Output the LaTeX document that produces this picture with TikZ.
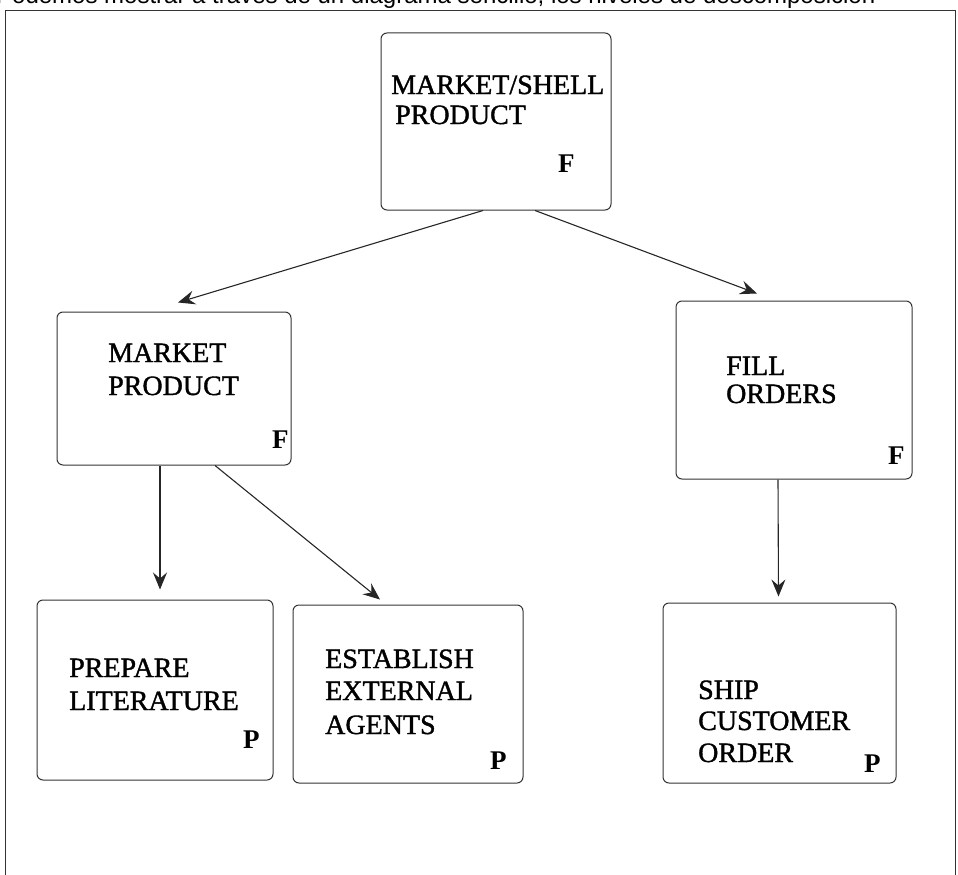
\documentclass[tikz,border=0pt]{standalone}
\usepackage{fontspec}
\setmainfont{Liberation Serif}
\newfontfamily\scanfont[FakeBold=1.3]{Liberation Serif}
\newfontfamily\topsans{Liberation Sans}
\usetikzlibrary{arrows.meta}
\begin{document}
\begin{tikzpicture}[x=1pt,y=-1pt,
  boxnode/.style={draw=black!80, line width=1pt, rounded corners=6pt, inner sep=0pt},
  lbl/.style={anchor=base west, inner sep=0pt, font=\scanfont\fontsize{28}{30}\selectfont},
  tag/.style={anchor=base west, inner sep=0pt, font=\bfseries\fontsize{27}{30}\selectfont},
  conn/.style={draw=black!85, line width=1.1pt, -{Stealth[length=17pt,width=14pt,inset=6pt]}}]
\useasboundingbox (0,0) rectangle (958,875);
% clipped heading line at the very top
\node[anchor=base west, inner sep=0pt, font=\topsans\fontsize{24}{26}\selectfont] (head) at (-4,4)
  {Podemos mostrar a través de un diagrama sencillo, los niveles de descomposición};
% outer frame
\draw[black!80, line width=1pt] (5,890) -- (5,11) -- (955,11) -- (955,890);

% boxes
\node[boxnode, minimum width=230pt, minimum height=177pt] (top) at (496,121.5) {};
\node[boxnode, minimum width=234pt, minimum height=153pt] (mp) at (174,388.5) {};
\node[boxnode, minimum width=236pt, minimum height=178pt] (fo) at (794,390) {};
\node[boxnode, minimum width=236pt, minimum height=180pt] (pl) at (155,690) {};
\node[boxnode, minimum width=230pt, minimum height=178pt] (ea) at (408,694) {};
\node[boxnode, minimum width=233pt, minimum height=180pt] (sc) at (779.5,693) {};

% texts
\node[lbl] (t1a) at (391,94) {MARKET/SHELL};
\node[lbl] (t1b) at (395,124) {PRODUCT};
\node[tag] (t1c) at (558,172) {F};

\node[lbl] (t2a) at (108,362) {MARKET};
\node[lbl] (t2b) at (108,395) {PRODUCT};
\node[tag] (t2c) at (272,448) {F};

\node[lbl] (t3a) at (726,375) {FILL};
\node[lbl] (t3b) at (726,403) {ORDERS};
\node[tag] (t3c) at (888,464) {F};

\node[lbl] (t4a) at (69,677) {PREPARE};
\node[lbl] (t4b) at (69,710) {LITERATURE};
\node[tag] (t4c) at (243,748) {P};

\node[lbl] (t5a) at (325,668) {ESTABLISH};
\node[lbl] (t5b) at (325,700) {EXTERNAL};
\node[lbl] (t5c) at (325,734) {AGENTS};
\node[tag] (t5d) at (490,769) {P};

\node[lbl] (t6a) at (698,699) {SHIP};
\node[lbl] (t6b) at (698,730) {CUSTOMER};
\node[lbl] (t6c) at (698,762) {ORDER};
\node[tag] (t6d) at (864,772) {P};

% connectors
\draw[conn] ([xshift=-13pt]top.south) -- ([xshift=4pt,yshift=9pt]mp.north);
\draw[conn] ([xshift=39pt]top.south) -- ([xshift=-37pt,yshift=7pt]fo.north);
\draw[conn] ([xshift=-14pt]mp.south) -- ([xshift=5pt,yshift=10pt]pl.north);
\draw[conn] ([xshift=41pt]mp.south) -- ([xshift=-28pt,yshift=5pt]ea.north);
\draw[conn] ([xshift=-16pt]fo.south) -- ([xshift=-1pt,yshift=6pt]sc.north);
\end{tikzpicture}
\end{document}
